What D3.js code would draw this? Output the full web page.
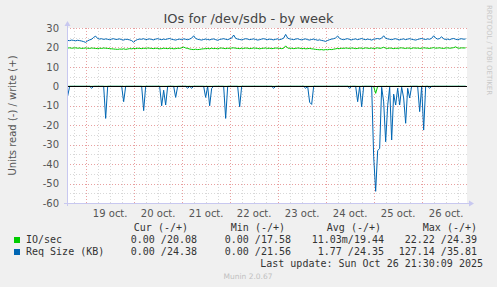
<!DOCTYPE html>
<html><head><meta charset="utf-8">
<script src="https://cdn.jsdelivr.net/npm/d3@7/dist/d3.min.js"></script>
<style>
html,body{margin:0;padding:0;background:#f0f0f0;}
svg{display:block;}
text{font-family:"DejaVu Sans",sans-serif;}
.mono{font-family:"DejaVu Sans Mono",monospace;}
</style></head><body>
<script>
// ---- data (hourly samples, Oct 18 15:00 onward) ----
const seriesNames = ["IO/sec", "Req Size (KB)"];
const seriesColors = ["#00cc00", "#0066b3"];
const startTime = new Date(2025, 9, 18, 15, 0);
const dayLabels = ["19 oct.", "20 oct.", "21 oct.", "22 oct.", "23 oct.", "24 oct.", "25 oct.", "26 oct."];
const yTicks = [30, 20, 10, 0, -10, -20, -30, -40, -50, -60];

const ioWrite = [
19.7,19.8,19.6,19.7,19.8,19.6,19.7,19.5,19.6,19.7,
19.6,19.5,19.7,19.6,19.5,19.4,19.6,19.5,19.7,19.6,
19.5,19.4,19.3,19.2,19.1,19.0,19.2,19.1,19.3,19.0,
19.2,19.4,19.3,19.5,19.4,19.6,19.5,19.4,19.6,19.5,
19.7,19.6,19.5,19.4,19.6,19.5,19.3,19.4,19.6,19.5,
19.4,19.6,19.5,19.3,19.4,19.6,19.5,19.8,20.2,19.7,
19.5,19.2,19.0,18.9,19.1,18.9,19.0,19.2,19.3,19.4,
19.5,19.3,19.6,19.4,19.5,19.3,19.6,19.7,19.5,19.4,
19.6,19.5,19.7,19.8,19.6,19.5,19.4,19.6,19.5,19.7,
19.6,19.4,19.5,19.7,19.6,19.5,19.3,19.5,19.6,19.7,
19.5,19.6,19.4,19.5,19.7,19.6,19.5,19.4,19.6,20.8,
19.7,19.5,19.6,19.4,19.5,19.7,19.6,19.4,19.5,19.3,
19.4,19.5,19.3,19.2,19.0,18.9,18.8,18.9,18.7,18.9,
18.8,19.0,18.9,19.1,19.3,19.5,19.4,19.6,19.5,19.7,
19.6,19.5,19.7,19.6,19.4,19.5,19.7,19.6,19.5,19.8,
19.6,19.5,19.7,19.4,19.6,19.8,19.5,19.7,20.1,19.6,
19.5,19.7,19.6,19.4,19.6,19.5,19.7,19.8,19.6,19.5,
19.7,19.6,19.5,19.8,19.6,19.7,19.5,19.6,19.8,19.7,
19.6,19.5,19.7,19.9,19.6,19.7,19.8,19.6,19.5,19.7,
19.8,19.6,19.7,19.9,20.3,19.7,19.6,19.8,19.7,19.8];

const reqWrite = [
23.6,23.5,23.8,23.6,23.4,23.7,23.5,23.3,23.0,22.6,
23.4,23.9,24.2,25.2,25.8,24.6,24.3,24.5,24.1,24.4,
24.2,24.0,24.3,24.5,24.1,24.2,24.4,24.0,23.8,24.2,
24.1,23.9,23.5,22.7,23.6,24.1,24.3,24.2,24.5,24.0,
24.2,24.4,24.1,23.9,24.3,24.5,24.2,24.0,24.3,24.1,
24.4,24.6,24.2,24.0,23.8,24.1,24.3,24.0,24.4,24.2,
24.0,24.3,24.8,26.0,24.6,24.2,24.0,23.8,24.1,24.3,
24.1,23.9,24.2,24.4,24.0,23.7,24.1,24.3,24.5,24.2,
24.0,24.4,24.8,26.4,24.7,24.3,24.1,23.9,24.2,24.5,
24.3,24.0,24.2,24.4,24.1,23.8,24.0,24.3,24.5,24.2,
24.0,24.3,24.1,23.9,24.2,24.4,24.0,24.3,24.8,26.7,
24.8,24.4,24.2,24.0,24.3,24.5,24.1,23.9,24.2,24.4,
24.0,23.8,24.1,24.3,24.0,23.7,23.9,23.6,23.4,23.1,
23.6,24.0,24.3,24.5,24.9,25.9,24.6,24.2,24.0,24.3,
24.5,24.1,23.9,24.2,24.4,24.0,24.3,24.6,24.2,24.0,
24.3,24.1,23.8,24.2,24.4,24.6,24.3,24.8,26.0,24.7,
24.4,24.2,24.0,24.3,24.5,24.1,23.9,24.2,24.4,24.0,
24.3,24.5,24.2,24.0,23.8,24.1,24.4,24.6,24.3,24.1,
24.4,24.2,24.7,26.0,24.8,24.3,24.6,25.5,24.4,24.1,
24.3,24.0,24.4,24.6,24.2,24.0,24.3,24.5,24.2,24.4];

const ioRead = [
0,0,0,0,0,0,0,0,0,0, 0,0,0,0,0,0,0,0,0,0,
0,0,0,0,0,0,0,0,0,0, 0,0,0,0,0,0,0,0,0,0,
0,0,0,0,0,0,0,0,0,0, 0,0,0,0,0,0,0,0,0,0,
0,0,0,0,0,0,0,0,0,0, 0,0,0,0,0,0,0,0,0,0,
0,0,0,0,0,0,0,0,0,0, 0,0,0,0,0,0,0,0,0,0,
0,0,0,0,0,0,0,0,0,0, 0,0,0,0,0,0,0,0,0,0,
0,0,0,0,0,0,0,0,0,0, 0,0,0,0,0,0,0,0,0,0,
0,0,0,0,0,0,0,0,0,0, 0,0,0,0,0,0,0,0,0,0,
0,0,0,0,0,0,0,0,0,0, 0,0,0,0,0,0,0,0,0,0,
0,0,0,0,0,0,0,0,0,0, 0,0,0,0,0,0,0,0,0,0];
ioRead[154] = 3.6;

const reqRead = [
5.0,0,0,0,0,0,0,0,0,0,
0,0,1.0,0,0,0,0,0,0,16.5,
0,0,0,0,0,0,0,0,7.9,0,
0,0,0,0,0,0,0,0,12.5,0,
0,0,0,0,0,0,0,10.0,2.0,9.6,
0,0,0,0,5.7,0,0,0,0,0,
1.0,0,1.0,0,0,0,0,0,0,5.7,
0,10.0,1.0,0,0,0,0,0,0,16.5,
0,0,0,0,0,0,10.5,0,0,0,
0,0,0,0,0,0,0,0,0,0,
0,0,0,1.0,0,0,0,0,0,0,
0,0,0,0,0,0,0,0,0,1.0,
0,8.2,9.3,0,0,0,0,0,0,0,
0,0,0,0,0,0,0,0,0,0,
0,1.0,0,0,0,7.9,0,10.5,0,0,
0,0,0,36.0,54.0,33.0,32.0,0.5,8.0,28.5,
10.0,0.5,27.6,4.0,9.6,1.0,9.6,0.5,6.0,19.0,
1.0,6.0,0,0,0,0,13.0,0,22.5,0,
0,1.0,0,0,0,0,0,0,0,0,
0,0,0,0,0,0,0,0,0,0];

const legendHeader = ["Cur (-/+)", "Min (-/+)", "Avg (-/+)", "Max (-/+)"];
const legendRows = [
  ["0.00 /20.08", "0.00 /17.58", "11.03m/19.44", "22.22 /24.39"],
  ["0.00 /24.38", "0.00 /21.56", "1.77 /24.35", "127.14 /35.81"]
];
const lastUpdate = "Last update: Sun Oct 26 21:30:09 2025";

// ---- layout ----
const W = 497, H = 287;
const L = 67, R = 467, T = 28, B = 203;
const svg = d3.select("body").append("svg").attr("width", W).attr("height", H);
svg.append("rect").attr("width", W).attr("height", H).attr("fill", "#f0f0f0");
svg.append("rect").attr("x", L).attr("y", T).attr("width", R - L).attr("height", B - T).attr("fill", "#ffffff");

const x = d3.scaleTime().domain([new Date(2025, 9, 18, 14, 40), new Date(2025, 9, 26, 22, 40)]).range([L, R]);
const y = d3.scaleLinear().domain([-60, 30]).range([B, T]);

const times = ioWrite.map((_, i) => d3.timeHour.offset(startTime, i));

// grid: vertical minor (6h) and major (midnight)
const minorX = d3.timeHour.every(6).range(x.domain()[0], x.domain()[1]).filter(d => d.getHours() !== 0);
const majorX = d3.timeDay.range(x.domain()[0], x.domain()[1]);
const gridG = svg.append("g");
gridG.append("g").attr("transform", `translate(0,${B})`)
  .call(d3.axisBottom(x).tickValues(minorX).tickSize(-(B - T)).tickFormat(""))
  .call(g => g.select(".domain").remove())
  .call(g => g.selectAll("line").attr("stroke", "#d8d8d8").attr("stroke-dasharray", "1,2").attr("shape-rendering", "crispEdges"));
const minorY = d3.range(-55, 30, 10);
gridG.append("g").attr("transform", `translate(${L},0)`)
  .call(d3.axisLeft(y).tickValues(minorY).tickSize(-(R - L)).tickFormat(""))
  .call(g => g.select(".domain").remove())
  .call(g => g.selectAll("line").attr("stroke", "#d8d8d8").attr("stroke-dasharray", "1,2").attr("shape-rendering", "crispEdges"));
gridG.append("g").attr("transform", `translate(0,${B})`)
  .call(d3.axisBottom(x).tickValues(majorX).tickSize(-(B - T)).tickFormat(""))
  .call(g => g.select(".domain").remove())
  .call(g => g.selectAll("line").attr("stroke", "#e8a0a0").attr("stroke-dasharray", "1,2").attr("shape-rendering", "crispEdges"));
gridG.append("g").attr("transform", `translate(${L},0)`)
  .call(d3.axisLeft(y).tickValues(yTicks.filter(v => v !== -60)).tickSize(-(R - L)).tickFormat(""))
  .call(g => g.select(".domain").remove())
  .call(g => g.selectAll("line").attr("stroke", "#e8a0a0").attr("stroke-dasharray", "1,2").attr("shape-rendering", "crispEdges"));

// y labels
svg.append("g").attr("transform", `translate(${L - 5},0)`)
  .call(d3.axisLeft(y).tickValues(yTicks).tickSize(0).tickFormat(d => d))
  .call(g => g.select(".domain").remove())
  .call(g => g.selectAll("text").attr("font-size", 10).attr("fill", "#555").attr("font-family", "DejaVu Sans").attr("dx", 0));

// x labels (noon)
const noonTicks = d3.timeDay.range(new Date(2025, 9, 19), new Date(2025, 9, 27)).map(d => d3.timeHour.offset(d, 12));
svg.append("g").attr("transform", `translate(0,${B})`)
  .call(d3.axisBottom(x).tickValues(noonTicks).tickSize(0).tickFormat((d, i) => dayLabels[i]))
  .call(g => g.select(".domain").remove())
  .call(g => g.selectAll("text").attr("font-size", 10).attr("fill", "#555").attr("font-family", "DejaVu Sans").attr("dy", "1.1em"));

// series
const line = d3.line().x((d, i) => x(times[i])).y(d => y(d));
const lineNeg = d3.line().x((d, i) => x(times[i])).y(d => y(-d));
svg.append("path").datum(ioWrite).attr("d", line).attr("fill", "none").attr("stroke", seriesColors[0]).attr("stroke-width", 1);
svg.append("path").datum(reqWrite).attr("d", line).attr("fill", "none").attr("stroke", seriesColors[1]).attr("stroke-width", 1);
svg.append("path").datum(reqRead).attr("d", lineNeg).attr("fill", "none").attr("stroke", seriesColors[1]).attr("stroke-width", 1);
svg.append("path").datum(ioRead).attr("d", lineNeg).attr("fill", "none").attr("stroke", seriesColors[0]).attr("stroke-width", 1);

// zero line
svg.append("line").attr("x1", L).attr("x2", R).attr("y1", Math.round(y(0)) + 0.5).attr("y2", Math.round(y(0)) + 0.5)
  .attr("stroke", "#000").attr("stroke-width", 1);

// axes lines with arrows
const axisCol = "#c8c8f0";
svg.append("line").attr("x1", L + 0.5).attr("x2", L + 0.5).attr("y1", B + 3).attr("y2", T - 4).attr("stroke", axisCol);
svg.append("path").attr("d", `M${L - 2.5},${T - 2} L${L + 3.5},${T - 2} L${L + 0.5},${T - 7} Z`).attr("fill", axisCol);
svg.append("line").attr("x1", L - 3).attr("x2", R + 4).attr("y1", B + 0.5).attr("y2", B + 0.5).attr("stroke", axisCol);
svg.append("path").attr("d", `M${R + 2},${B - 2.5} L${R + 2},${B + 3.5} L${R + 7},${B + 0.5} Z`).attr("fill", axisCol);

// title
svg.append("text").attr("x", 248.5).attr("y", 23).attr("text-anchor", "middle")
  .attr("font-size", 13).attr("fill", "#444").text("IOs for /dev/sdb - by week");

// y axis title
svg.append("text").attr("transform", `translate(16,${(T + B) / 2}) rotate(-90)`).attr("text-anchor", "middle")
  .attr("font-size", 10).attr("fill", "#555").text("Units read (-) / write (+)");

// right vertical watermark
svg.append("text").attr("transform", `translate(487,5) rotate(90)`).attr("text-anchor", "start")
  .attr("font-size", 7).attr("fill", "#c8c8c8").text("RRDTOOL / TOBI OETIKER");

// legend
const colEnds = [188, 285, 381, 477];
const valEnds = [197, 291, 384, 477];
legendHeader.forEach((h, j) => {
  svg.append("text").attr("class", "mono").attr("x", colEnds[j]).attr("y", 231).attr("text-anchor", "end")
    .attr("font-size", 10).attr("fill", "#333").text(h);
});
seriesNames.forEach((n, i) => {
  const yy = 243 + i * 12;
  svg.append("rect").attr("x", 14).attr("y", yy - 6).attr("width", 6).attr("height", 6).attr("fill", seriesColors[i]);
  svg.append("text").attr("class", "mono").attr("x", 26).attr("y", yy).attr("font-size", 10).attr("fill", "#333").text(n);
  legendRows[i].forEach((v, j) => {
    svg.append("text").attr("class", "mono").attr("x", valEnds[j]).attr("y", yy).attr("text-anchor", "end")
      .attr("font-size", 10).attr("fill", "#333").text(v);
  });
});
svg.append("text").attr("class", "mono").attr("x", 483).attr("y", 267).attr("text-anchor", "end")
  .attr("font-size", 10).attr("fill", "#333").text(lastUpdate);
svg.append("text").attr("x", 248).attr("y", 279).attr("text-anchor", "middle")
  .attr("font-size", 7.5).attr("fill", "#c0c0c0").text("Munin 2.0.67");
</script>
</body></html>
